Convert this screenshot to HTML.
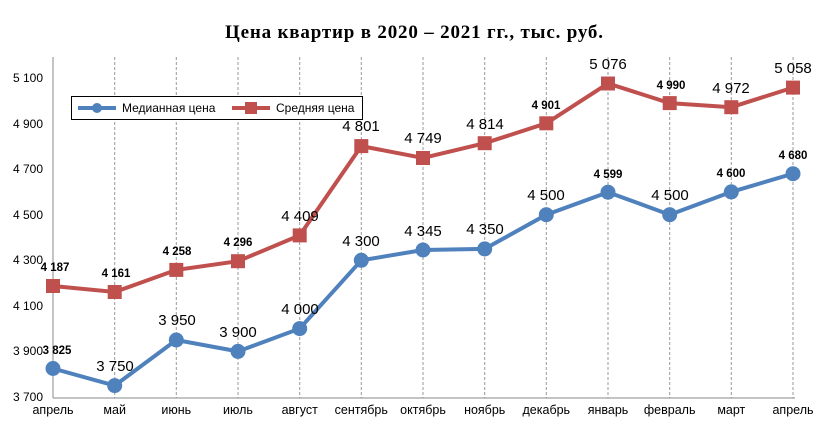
<!DOCTYPE html>
<html><head><meta charset="utf-8"><style>
html,body{margin:0;padding:0;background:#fff;}
svg{display:block;font-family:"Liberation Sans","DejaVu Sans",sans-serif;}
</style></head><body>
<svg width="827" height="425" viewBox="0 0 827 425" xmlns="http://www.w3.org/2000/svg">
<rect width="827" height="425" fill="#fff"/>
<text x="414" y="38" text-anchor="middle" font-family="Liberation Serif,serif" font-weight="bold" font-size="19" textLength="378">Цена квартир в 2020 – 2021 гг., тыс. руб.</text>
<g stroke="#999" stroke-width="1" stroke-dasharray="3,2">
<line x1="114.7" y1="57" x2="114.7" y2="398"/><line x1="176.3" y1="57" x2="176.3" y2="398"/>
<line x1="238" y1="57" x2="238" y2="398"/><line x1="299.7" y1="57" x2="299.7" y2="398"/>
<line x1="361.3" y1="57" x2="361.3" y2="398"/><line x1="423" y1="57" x2="423" y2="398"/>
<line x1="484.7" y1="57" x2="484.7" y2="398"/><line x1="546.3" y1="57" x2="546.3" y2="398"/>
<line x1="608" y1="57" x2="608" y2="398"/><line x1="669.7" y1="57" x2="669.7" y2="398"/>
<line x1="731.3" y1="57" x2="731.3" y2="398"/><line x1="793" y1="57" x2="793" y2="398"/>
</g>
<line x1="53" y1="57" x2="53" y2="398" stroke="#888"/>
<line x1="53" y1="398" x2="795" y2="398" stroke="#888"/>
<g font-size="12" fill="#000" text-anchor="start">
<text x="13" y="82">5 100</text><text x="13" y="128">4 900</text><text x="13" y="173">4 700</text>
<text x="13" y="219">4 500</text><text x="13" y="264">4 300</text><text x="13" y="310">4 100</text>
<text x="13" y="355">3 900</text><text x="13" y="401">3 700</text>
</g>
<g font-size="12.5" text-anchor="middle" fill="#000">
<text x="53" y="414">апрель</text><text x="114.7" y="414">май</text><text x="176.3" y="414">июнь</text>
<text x="238" y="414">июль</text><text x="299.7" y="414">август</text><text x="361.3" y="414">сентябрь</text>
<text x="423" y="414">октябрь</text><text x="484.7" y="414">ноябрь</text><text x="546.3" y="414">декабрь</text>
<text x="608" y="414">январь</text><text x="669.7" y="414">февраль</text><text x="731.3" y="414">март</text>
<text x="793" y="414">апрель</text>
</g>
<polyline fill="none" stroke="#c0504d" stroke-width="4" points="53,286 114.7,292 176.3,269.9 238,261.2 299.7,235.4 361.3,146.1 423,158 484.7,143.2 546.3,123.3 608,83.5 669.7,103.1 731.3,107.2 793,87.6"/>
<g fill="#c0504d">
<rect x="46" y="279" width="14" height="14"/><rect x="107.7" y="285" width="14" height="14"/><rect x="169.3" y="262.9" width="14" height="14"/>
<rect x="231" y="254.2" width="14" height="14"/><rect x="292.7" y="228.4" width="14" height="14"/><rect x="354.3" y="139.1" width="14" height="14"/>
<rect x="416" y="151" width="14" height="14"/><rect x="477.7" y="136.2" width="14" height="14"/><rect x="539.3" y="116.3" width="14" height="14"/>
<rect x="601" y="76.5" width="14" height="14"/><rect x="662.7" y="96.1" width="14" height="14"/><rect x="724.3" y="100.2" width="14" height="14"/>
<rect x="786" y="80.6" width="14" height="14"/>
</g>
<polyline fill="none" stroke="#4f81bd" stroke-width="4" points="53,368.5 114.7,385.6 176.3,340 238,351.4 299.7,328.6 361.3,260.3 423,250 484.7,248.9 546.3,214.7 608,192.2 669.7,214.7 731.3,191.9 793,173.7"/>
<g fill="#4f81bd">
<circle cx="53" cy="368.5" r="7.5"/><circle cx="114.7" cy="385.6" r="7.5"/><circle cx="176.3" cy="340" r="7.5"/>
<circle cx="238" cy="351.4" r="7.5"/><circle cx="299.7" cy="328.6" r="7.5"/><circle cx="361.3" cy="260.3" r="7.5"/>
<circle cx="423" cy="250" r="7.5"/><circle cx="484.7" cy="248.9" r="7.5"/><circle cx="546.3" cy="214.7" r="7.5"/>
<circle cx="608" cy="192.2" r="7.5"/><circle cx="669.7" cy="214.7" r="7.5"/><circle cx="731.3" cy="191.9" r="7.5"/>
<circle cx="793" cy="173.7" r="7.5"/>
</g>
<g text-anchor="middle" fill="#000">
<g font-size="11.5" font-weight="bold">
<text x="55" y="271">4 187</text><text x="116" y="277">4 161</text><text x="177" y="255">4 258</text>
<text x="238" y="246">4 296</text><text x="546" y="109">4 901</text><text x="671" y="89">4 990</text>
<text x="57" y="354">3 825</text><text x="608" y="178">4 599</text><text x="731" y="177">4 600</text>
<text x="793" y="159">4 680</text>
</g>
<g font-size="15">
<text x="300" y="221">4 409</text><text x="361" y="131">4 801</text><text x="423" y="143">4 749</text>
<text x="485" y="129">4 814</text><text x="608" y="69">5 076</text><text x="731" y="93">4 972</text>
<text x="793" y="73">5 058</text>
<text x="115" y="371">3 750</text><text x="177" y="325">3 950</text><text x="238" y="337">3 900</text>
<text x="300" y="314">4 000</text><text x="361" y="246">4 300</text><text x="423" y="236">4 345</text>
<text x="485" y="234">4 350</text><text x="546" y="200">4 500</text><text x="670" y="200">4 500</text>
</g>
</g>
<rect x="71.5" y="96.5" width="291" height="23" fill="#fff" stroke="#000"/>
<line x1="78" y1="108" x2="116" y2="108" stroke="#4f81bd" stroke-width="4"/>
<circle cx="97" cy="108" r="5" fill="#4f81bd"/>
<text x="122" y="112" font-size="12">Медианная цена</text>
<line x1="232" y1="108" x2="270" y2="108" stroke="#c0504d" stroke-width="4"/>
<rect x="245" y="102" width="12" height="12" fill="#c0504d"/>
<text x="276" y="112" font-size="12">Средняя цена</text>
</svg>
</body></html>
